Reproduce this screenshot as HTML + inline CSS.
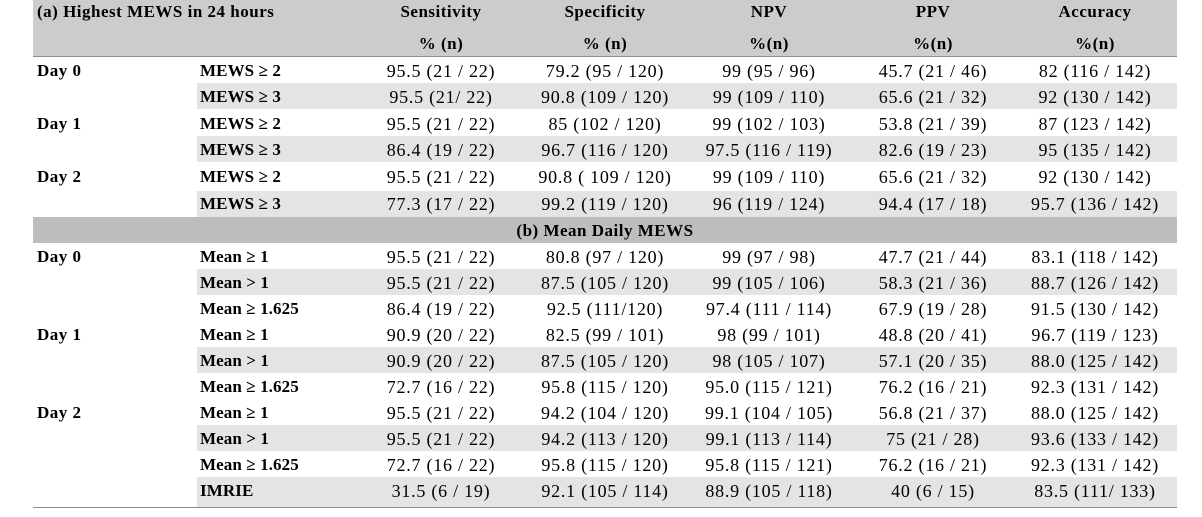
<!DOCTYPE html>
<html>
<head>
<meta charset="utf-8">
<style>
html,body{margin:0;padding:0;background:#fff;}
body{width:1202px;height:517px;position:relative;overflow:hidden;}
.r{position:absolute;}
.t{position:absolute;line-height:20px;height:20px;white-space:nowrap;font-family:"Liberation Serif",serif;font-size:17px;color:#000;}
.d{width:164px;text-align:center;letter-spacing:0.75px;font-size:18px;}
.b{font-weight:bold;letter-spacing:0.5px;}
.c1{left:359px}.c2{left:523px}.c3{left:687px}.c4{left:851px}.c5{left:1013px}
.lab{left:200px;letter-spacing:0.1px;}
.day{left:37px}
</style>
</head>
<body>
<!-- header background -->
<div class="r" style="left:33px;top:0;width:1144px;height:56px;background:#cccccc;"></div>
<div class="r" style="left:33px;top:56px;width:1144px;height:1px;background:#8c8c8c;"></div>
<!-- shaded rows section a -->
<div class="r" style="left:197px;top:83px;width:980px;height:26px;background:#e4e4e6;"></div>
<div class="r" style="left:197px;top:136px;width:980px;height:26px;background:#e4e4e6;"></div>
<div class="r" style="left:197px;top:191px;width:980px;height:26px;background:#e4e4e6;"></div>
<!-- section band -->
<div class="r" style="left:33px;top:217px;width:1144px;height:26px;background:#bdbdbd;"></div>
<!-- shaded rows section b -->
<div class="r" style="left:197px;top:269px;width:980px;height:26px;background:#e4e4e6;"></div>
<div class="r" style="left:197px;top:347px;width:980px;height:26px;background:#e4e4e6;"></div>
<div class="r" style="left:197px;top:425px;width:980px;height:26px;background:#e4e4e6;"></div>
<div class="r" style="left:197px;top:477px;width:980px;height:30px;background:#e4e4e6;"></div>
<!-- bottom line -->
<div class="r" style="left:33px;top:507px;width:1144px;height:1px;background:#8c8c8c;"></div>

<!-- header text -->
<div class="t b" style="left:37px;top:2px;">(a) Highest MEWS in 24 hours</div>
<div class="t b d c1" style="top:2px;letter-spacing:0.5px;font-size:17px;">Sensitivity</div>
<div class="t b d c2" style="top:2px;letter-spacing:0.5px;font-size:17px;">Specificity</div>
<div class="t b d c3" style="top:2px;letter-spacing:0.5px;font-size:17px;">NPV</div>
<div class="t b d c4" style="top:2px;letter-spacing:0.5px;font-size:17px;">PPV</div>
<div class="t b d c5" style="top:2px;letter-spacing:0.5px;font-size:17px;">Accuracy</div>
<div class="t b d c1" style="top:34px;letter-spacing:0.5px;font-size:17px;">% (n)</div>
<div class="t b d c2" style="top:34px;letter-spacing:0.5px;font-size:17px;">% (n)</div>
<div class="t b d c3" style="top:34px;letter-spacing:0.5px;font-size:17px;">%(n)</div>
<div class="t b d c4" style="top:34px;letter-spacing:0.5px;font-size:17px;">%(n)</div>
<div class="t b d c5" style="top:34px;letter-spacing:0.5px;font-size:17px;">%(n)</div>

<!-- section a -->
<div class="t b day" style="top:61px;">Day 0</div>
<div class="t b lab" style="top:61px;">MEWS ≥ 2</div>
<div class="t d c1" style="top:61px;">95.5 (21 / 22)</div>
<div class="t d c2" style="top:61px;">79.2 (95 / 120)</div>
<div class="t d c3" style="top:61px;">99 (95 / 96)</div>
<div class="t d c4" style="top:61px;">45.7 (21 / 46)</div>
<div class="t d c5" style="top:61px;">82 (116 / 142)</div>

<div class="t b lab" style="top:87px;">MEWS ≥ 3</div>
<div class="t d c1" style="top:87px;">95.5 (21/ 22)</div>
<div class="t d c2" style="top:87px;">90.8 (109 / 120)</div>
<div class="t d c3" style="top:87px;">99 (109 / 110)</div>
<div class="t d c4" style="top:87px;">65.6 (21 / 32)</div>
<div class="t d c5" style="top:87px;">92 (130 / 142)</div>

<div class="t b day" style="top:114px;">Day 1</div>
<div class="t b lab" style="top:114px;">MEWS ≥ 2</div>
<div class="t d c1" style="top:114px;">95.5 (21 / 22)</div>
<div class="t d c2" style="top:114px;">85 (102 / 120)</div>
<div class="t d c3" style="top:114px;">99 (102 / 103)</div>
<div class="t d c4" style="top:114px;">53.8 (21 / 39)</div>
<div class="t d c5" style="top:114px;">87 (123 / 142)</div>

<div class="t b lab" style="top:140px;">MEWS ≥ 3</div>
<div class="t d c1" style="top:140px;">86.4 (19 / 22)</div>
<div class="t d c2" style="top:140px;">96.7 (116 / 120)</div>
<div class="t d c3" style="top:140px;">97.5 (116 / 119)</div>
<div class="t d c4" style="top:140px;">82.6 (19 / 23)</div>
<div class="t d c5" style="top:140px;">95 (135 / 142)</div>

<div class="t b day" style="top:167px;">Day 2</div>
<div class="t b lab" style="top:167px;">MEWS ≥ 2</div>
<div class="t d c1" style="top:167px;">95.5 (21 / 22)</div>
<div class="t d c2" style="top:167px;">90.8 ( 109 / 120)</div>
<div class="t d c3" style="top:167px;">99 (109 / 110)</div>
<div class="t d c4" style="top:167px;">65.6 (21 / 32)</div>
<div class="t d c5" style="top:167px;">92 (130 / 142)</div>

<div class="t b lab" style="top:194px;">MEWS ≥ 3</div>
<div class="t d c1" style="top:194px;">77.3 (17 / 22)</div>
<div class="t d c2" style="top:194px;">99.2 (119 / 120)</div>
<div class="t d c3" style="top:194px;">96 (119 / 124)</div>
<div class="t d c4" style="top:194px;">94.4 (17 / 18)</div>
<div class="t d c5" style="top:194px;">95.7 (136 / 142)</div>

<!-- band -->
<div class="t b" style="left:33px;width:1144px;text-align:center;top:221px;">(b) Mean Daily MEWS</div>

<!-- section b -->
<div class="t b day" style="top:247px;">Day 0</div>
<div class="t b lab" style="top:247px;">Mean ≥ 1</div>
<div class="t d c1" style="top:247px;">95.5 (21 / 22)</div>
<div class="t d c2" style="top:247px;">80.8 (97 / 120)</div>
<div class="t d c3" style="top:247px;">99 (97 / 98)</div>
<div class="t d c4" style="top:247px;">47.7 (21 / 44)</div>
<div class="t d c5" style="top:247px;">83.1 (118 / 142)</div>

<div class="t b lab" style="top:273px;">Mean &gt; 1</div>
<div class="t d c1" style="top:273px;">95.5 (21 / 22)</div>
<div class="t d c2" style="top:273px;">87.5 (105 / 120)</div>
<div class="t d c3" style="top:273px;">99 (105 / 106)</div>
<div class="t d c4" style="top:273px;">58.3 (21 / 36)</div>
<div class="t d c5" style="top:273px;">88.7 (126 / 142)</div>

<div class="t b lab" style="top:299px;">Mean ≥ 1.625</div>
<div class="t d c1" style="top:299px;">86.4 (19 / 22)</div>
<div class="t d c2" style="top:299px;">92.5 (111/120)</div>
<div class="t d c3" style="top:299px;">97.4 (111 / 114)</div>
<div class="t d c4" style="top:299px;">67.9 (19 / 28)</div>
<div class="t d c5" style="top:299px;">91.5 (130 / 142)</div>

<div class="t b day" style="top:325px;">Day 1</div>
<div class="t b lab" style="top:325px;">Mean ≥ 1</div>
<div class="t d c1" style="top:325px;">90.9 (20 / 22)</div>
<div class="t d c2" style="top:325px;">82.5 (99 / 101)</div>
<div class="t d c3" style="top:325px;">98 (99 / 101)</div>
<div class="t d c4" style="top:325px;">48.8 (20 / 41)</div>
<div class="t d c5" style="top:325px;">96.7 (119 / 123)</div>

<div class="t b lab" style="top:351px;">Mean &gt; 1</div>
<div class="t d c1" style="top:351px;">90.9 (20 / 22)</div>
<div class="t d c2" style="top:351px;">87.5 (105 / 120)</div>
<div class="t d c3" style="top:351px;">98 (105 / 107)</div>
<div class="t d c4" style="top:351px;">57.1 (20 / 35)</div>
<div class="t d c5" style="top:351px;">88.0 (125 / 142)</div>

<div class="t b lab" style="top:377px;">Mean ≥ 1.625</div>
<div class="t d c1" style="top:377px;">72.7 (16 / 22)</div>
<div class="t d c2" style="top:377px;">95.8 (115 / 120)</div>
<div class="t d c3" style="top:377px;">95.0 (115 / 121)</div>
<div class="t d c4" style="top:377px;">76.2 (16 / 21)</div>
<div class="t d c5" style="top:377px;">92.3 (131 / 142)</div>

<div class="t b day" style="top:403px;">Day 2</div>
<div class="t b lab" style="top:403px;">Mean ≥ 1</div>
<div class="t d c1" style="top:403px;">95.5 (21 / 22)</div>
<div class="t d c2" style="top:403px;">94.2 (104 / 120)</div>
<div class="t d c3" style="top:403px;">99.1 (104 / 105)</div>
<div class="t d c4" style="top:403px;">56.8 (21 / 37)</div>
<div class="t d c5" style="top:403px;">88.0 (125 / 142)</div>

<div class="t b lab" style="top:429px;">Mean &gt; 1</div>
<div class="t d c1" style="top:429px;">95.5 (21 / 22)</div>
<div class="t d c2" style="top:429px;">94.2 (113 / 120)</div>
<div class="t d c3" style="top:429px;">99.1 (113 / 114)</div>
<div class="t d c4" style="top:429px;">75 (21 / 28)</div>
<div class="t d c5" style="top:429px;">93.6 (133 / 142)</div>

<div class="t b lab" style="top:455px;">Mean ≥ 1.625</div>
<div class="t d c1" style="top:455px;">72.7 (16 / 22)</div>
<div class="t d c2" style="top:455px;">95.8 (115 / 120)</div>
<div class="t d c3" style="top:455px;">95.8 (115 / 121)</div>
<div class="t d c4" style="top:455px;">76.2 (16 / 21)</div>
<div class="t d c5" style="top:455px;">92.3 (131 / 142)</div>

<div class="t b lab" style="top:481px;">IMRIE</div>
<div class="t d c1" style="top:481px;">31.5 (6 / 19)</div>
<div class="t d c2" style="top:481px;">92.1 (105 / 114)</div>
<div class="t d c3" style="top:481px;">88.9 (105 / 118)</div>
<div class="t d c4" style="top:481px;">40 (6 / 15)</div>
<div class="t d c5" style="top:481px;">83.5 (111/ 133)</div>
</body>
</html>
